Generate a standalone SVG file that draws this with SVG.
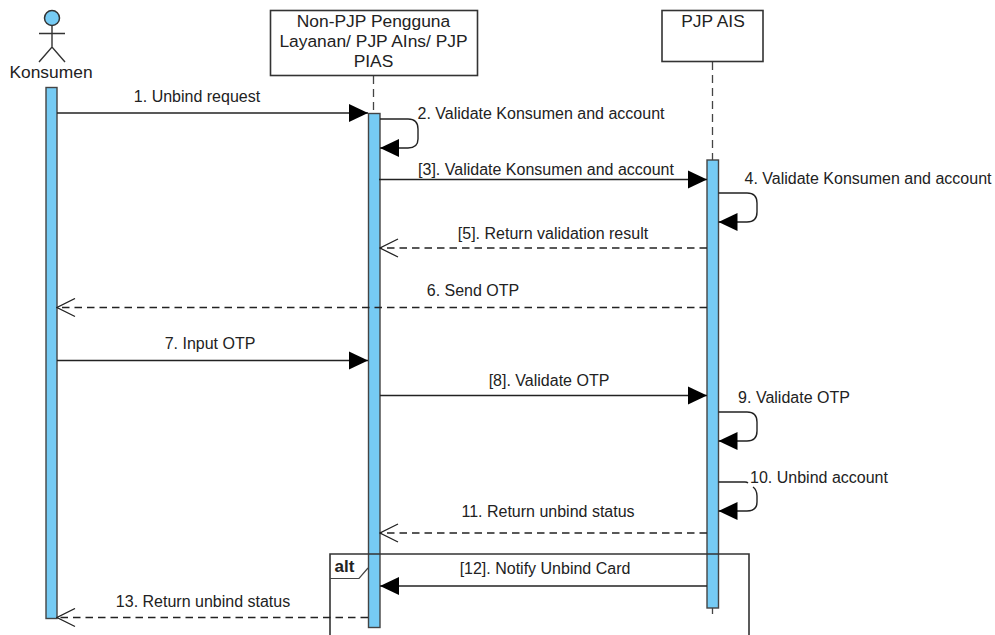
<svg xmlns="http://www.w3.org/2000/svg" width="995" height="635" viewBox="0 0 995 635">
<style>
text{font-family:"Liberation Sans",Arial,sans-serif;font-size:16px;fill:#222;text-anchor:middle}
.h{font-size:17.400px}
.box{fill:#fff;stroke:#333;stroke-width:1.6}
.bar{fill:#76cbf4;stroke:#444;stroke-width:1.4}
.ll{fill:none;stroke:#444;stroke-width:1.3;stroke-dasharray:8 5}
.m{fill:none;stroke:#222;stroke-width:1.4}
.d{stroke-dasharray:7.500 5}
.s{marker-end:url(#f)}
.o{marker-end:url(#o)}
</style>
<defs>
<marker id="f" markerUnits="userSpaceOnUse" markerWidth="20" markerHeight="20" refX="19" refY="10" orient="auto"><path d="M0 1L19 10L0 19Z" fill="#000"/></marker>
<marker id="o" markerUnits="userSpaceOnUse" markerWidth="20" markerHeight="20" refX="19" refY="10" orient="auto"><path d="M1 1L19 10L1 19" fill="none" stroke="#222" stroke-width="1.3"/></marker>
</defs>
<g id="lifelines">
<path class="ll" d="M373.500 76V113M712.500 62V160M712.500 608V614"/>
</g>
<g id="konsumen">
<circle cx="52" cy="18" r="7.500" fill="#76cbf4" stroke="#333" stroke-width="1.500"/>
<path d="M52 25.500V47M39 33.500H65M39 62L52 47L65 62" fill="none" stroke="#333" stroke-width="1.400"/>
<text class="h" x="51" y="77.500">Konsumen</text>
<rect class="bar" x="46" y="87.500" width="11" height="531"/>
</g>
<g id="non-pjp">
<rect class="box" x="270.500" y="10.500" width="207" height="65"/>
<text class="h" x="373.500" y="26.500">Non-PJP Pengguna</text>
<text class="h" x="373.500" y="46.500">Layanan/ PJP AIns/ PJP</text>
<text class="h" x="373.500" y="66.500">PIAS</text>
<rect class="bar" x="368.500" y="113.500" width="11.500" height="514"/>
</g>
<g id="pjp-ais">
<rect class="box" x="662" y="10.500" width="101" height="51"/>
<text class="h" x="713" y="26.500">PJP AIS</text>
<rect class="bar" x="707" y="160" width="11.500" height="448"/>
</g>
<g id="alt">
<path d="M330 635V554H749V635" fill="none" stroke="#333" stroke-width="1.600"/>
<path d="M330 578.500H359L368 568" fill="none" stroke="#444" stroke-width="1.200"/>
<text x="344.500" y="571.500" style="font-weight:700;font-size:17px">alt</text>
</g>
<g id="connectors">
<path class="m s" d="M57 113H368"/>
<path class="m s" d="M380 119H408Q418 119 418 129V139Q418 148 408 148H380"/>
<path class="m s" d="M379 179.500H707"/>
<path class="m s" d="M718.500 193H747Q757 193 757 203V212Q757 222 747 222H718.500"/>
<path class="m d o" d="M707 248H380"/>
<path class="m d o" d="M707 307.500H57"/>
<path class="m s" d="M57 360.500H368"/>
<path class="m s" d="M380 395.500H707"/>
<path class="m s" d="M718.500 412H747Q757 412 757 422V431Q757 441 747 441H718.500"/>
<path class="m" d="M718.500 482H745Q747 482 748 483"/>
<path class="m s" d="M753 487Q757 490 757 496V502Q757 511 747 511H718.500"/>
<path class="m d o" d="M707 533H380"/>
<path class="m s" d="M707 586H380"/>
<path class="m d o" d="M368 617.500H57"/>
</g>
<g id="labels">
<text x="197" y="101.500">1. Unbind request</text>
<text x="541" y="118.500">2. Validate Konsumen and account</text>
<text x="546" y="174.500">[3]. Validate Konsumen and account</text>
<text x="868" y="183.500">4. Validate Konsumen and account</text>
<text x="553" y="238.500">[5]. Return validation result</text>
<text x="473" y="295.500">6. Send OTP</text>
<text x="210" y="348.500">7. Input OTP</text>
<text x="549" y="385.500">[8]. Validate OTP</text>
<text x="794" y="402.500">9. Validate OTP</text>
<text x="819" y="482.500">10. Unbind account</text>
<text x="548" y="516.500">11. Return unbind status</text>
<text x="545" y="573.500">[12]. Notify Unbind Card</text>
<text x="203" y="606.500">13. Return unbind status</text>
</g>
</svg>
